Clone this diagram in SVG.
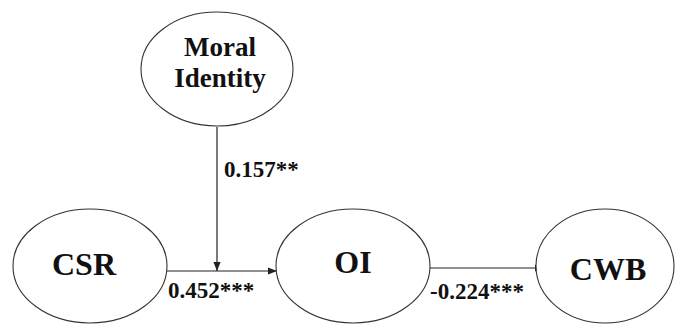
<svg xmlns="http://www.w3.org/2000/svg" width="676" height="325" viewBox="0 0 676 325">
<style>
.node{fill:#fff;stroke:#333;stroke-width:1.1}
text{font-family:'Liberation Serif','DejaVu Serif',serif;font-weight:700;fill:#111}
.lbl{text-anchor:middle}
.big{font-size:32px}
.mid{font-size:27px}
.coef{font-size:23px}
.edge{stroke:#222;stroke-width:1.2;fill:none}
</style>
<defs>
<marker id="arr" viewBox="0 0 10 10" refX="10" refY="5" markerWidth="9" markerHeight="9" markerUnits="userSpaceOnUse" orient="auto">
<path d="M0,1 L10,5 L0,9 z" fill="#222"/>
</marker>
</defs>
<rect width="676" height="325" fill="#fff"/>
<g id="connectors">
<line class="edge" x1="166" y1="271" x2="277" y2="271" marker-end="url(#arr)"/>
<line class="edge" x1="217" y1="127" x2="217" y2="271" marker-end="url(#arr)"/>
<line class="edge" x1="430" y1="268" x2="544" y2="268" marker-end="url(#arr)"/>
<text class="coef" x="224" y="177">0.157**</text>
<text class="coef" x="168" y="298">0.452***</text>
<text class="coef" x="430" y="299">-0.224***</text>
</g>
<g id="moral-identity">
<ellipse class="node" cx="217" cy="69" rx="76" ry="57"/>
<text class="lbl mid" x="220" y="56">Moral</text>
<text class="lbl mid" x="220" y="87">Identity</text>
</g>
<g id="csr">
<ellipse class="node" cx="90" cy="266" rx="77" ry="57"/>
<text class="lbl big" x="84" y="275">CSR</text>
</g>
<g id="oi">
<ellipse class="node" cx="353" cy="266" rx="77" ry="57"/>
<text class="lbl big" x="353" y="273">OI</text>
</g>
<g id="cwb">
<ellipse class="node" cx="605" cy="266" rx="69" ry="57"/>
<text class="lbl big" x="608" y="280">CWB</text>
</g>
</svg>
